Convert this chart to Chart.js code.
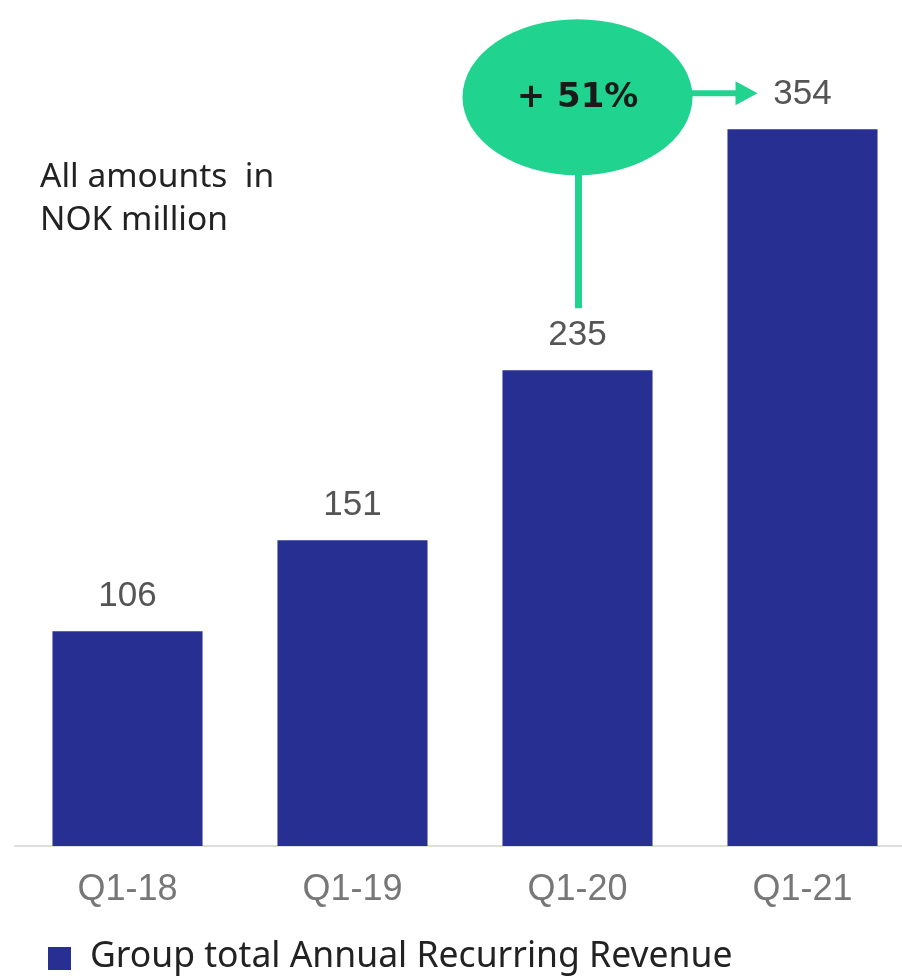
<!DOCTYPE html>
<html>
<head>
<meta charset="utf-8">
<script src="https://cdn.jsdelivr.net/npm/chart.js@4"></script>
<style>
  html, body { margin: 0; padding: 0; background: #fff; overflow: hidden; }
  #wrap { width: 902px; height: 978px; overflow: hidden; }
</style>
</head>
<body>
<div id="wrap"><canvas id="arrChart" width="917" height="978"></canvas></div>
<script>
const quarters = ['Q1-18', 'Q1-19', 'Q1-20', 'Q1-21'];
const arrValues = [106, 151, 235, 354];
const seriesName = 'Group total Annual Recurring Revenue';
const growthText = '+ 51%';
const noteLines = ['All amounts  in', 'NOK million'];

const barBlue = '#282f93';
const green = '#20d490';

// value labels over the bars
const valueLabels = {
  id: 'valueLabels',
  afterDatasetsDraw(chart) {
    const ctx = chart.ctx;
    const meta = chart.getDatasetMeta(0);
    ctx.save();
    ctx.font = '35px "Liberation Sans", Arial, sans-serif';
    ctx.fillStyle = '#555';
    ctx.textAlign = 'center';
    ctx.textBaseline = 'middle';
    meta.data.forEach((bar, i) => {
      ctx.fillText(arrValues[i], bar.x, bar.y - 35);
    });
    ctx.restore();
  }
};

// green growth bubble + connectors, note text and legend
const extras = {
  id: 'extras',
  afterDraw(chart) {
    const ctx = chart.ctx;
    const meta = chart.getDatasetMeta(0);
    const from = meta.data[2], to = meta.data[3];
    const cx = from.x, cy = to.y - 32;
    const rx = 115, ry = 78;
    ctx.save();
    // vertical connector from 235 label up to bubble
    ctx.strokeStyle = green;
    ctx.lineWidth = 7;
    ctx.beginPath();
    ctx.moveTo(cx + 1, from.y - 62);
    ctx.lineTo(cx + 1, cy);
    ctx.stroke();
    // arrow to the 354 label
    ctx.lineWidth = 6;
    const ax = to.x - 45;
    ctx.beginPath();
    ctx.moveTo(cx, cy - 4);
    ctx.lineTo(ax - 20, cy - 4);
    ctx.stroke();
    ctx.fillStyle = green;
    ctx.beginPath();
    ctx.moveTo(ax - 22, cy - 16);
    ctx.lineTo(ax, cy - 4);
    ctx.lineTo(ax - 22, cy + 8);
    ctx.closePath();
    ctx.fill();
    // bubble
    ctx.beginPath();
    ctx.ellipse(cx, cy, rx, ry, 0, 0, Math.PI * 2);
    ctx.fill();
    ctx.fillStyle = '#1a1a1a';
    ctx.font = 'bold 34px "DejaVu Sans", sans-serif';
    ctx.textAlign = 'center';
    ctx.textBaseline = 'middle';
    ctx.fillText(growthText, cx, cy + 1);

    // note
    ctx.fillStyle = '#222';
    ctx.font = '33.5px "Noto Sans", sans-serif';
    ctx.textAlign = 'left';
    ctx.fillText(noteLines[0], 40, 177);
    ctx.fillText(noteLines[1], 40, 220);

    // legend
    ctx.fillStyle = barBlue;
    ctx.fillRect(48, 947, 23, 23);
    ctx.fillStyle = '#222';
    ctx.font = '35.5px "Noto Sans", sans-serif';
    ctx.fillText(seriesName, 90, 957);
    ctx.restore();
  }
};

new Chart(document.getElementById('arrChart'), {
  type: 'bar',
  data: {
    labels: quarters,
    datasets: [{
      label: seriesName,
      data: arrValues,
      backgroundColor: barBlue,
      barPercentage: 0.667,
      categoryPercentage: 1.0
    }]
  },
  options: {
    responsive: false,
    animation: false,
    layout: { padding: { left: 15, right: 2, top: 36, bottom: 0 } },
    plugins: { legend: { display: false }, tooltip: { enabled: false } },
    scales: {
      x: {
        grid: { display: false, drawTicks: false },
        border: { display: true, color: '#dddddd', width: 2 },
        ticks: {
          color: '#777',
          padding: 22,
          font: { family: '"Liberation Sans", Arial, sans-serif', size: 36 }
        },
        afterFit(scale) { scale.height = 132; }
      },
      y: {
        display: false,
        min: 0,
        max: 400
      }
    }
  },
  plugins: [valueLabels, extras]
});
</script>
</body>
</html>
